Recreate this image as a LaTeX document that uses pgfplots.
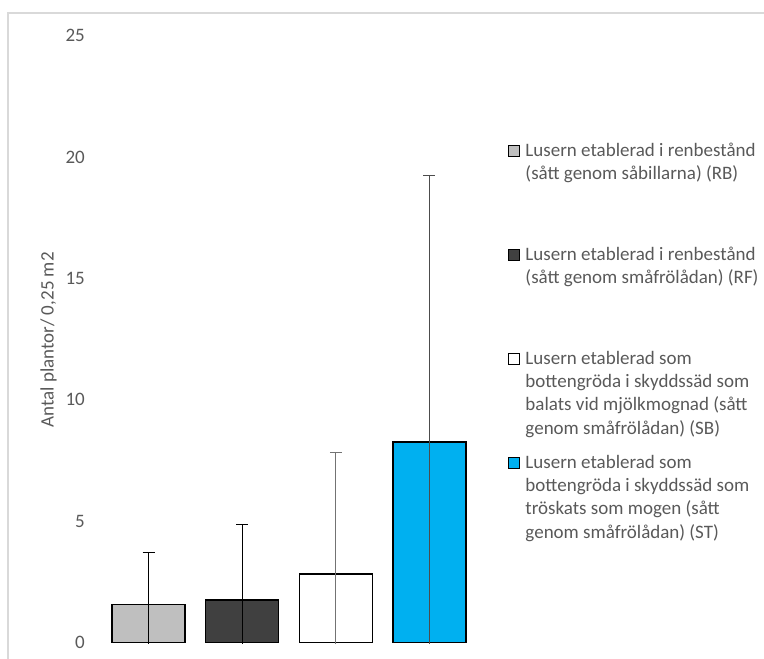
\documentclass[border=0pt]{standalone}
\usepackage{pgfplots}
\pgfplotsset{compat=1.18}
\usepackage{fontspec}
\setmainfont{Carlito}
\definecolor{txt}{HTML}{595959}
\definecolor{c1}{HTML}{BFBFBF}
\definecolor{c2}{HTML}{404040}
\definecolor{c4}{HTML}{00B0F0}
\definecolor{frm}{HTML}{D9D9D9}
\newcommand{\ff}{\fontsize{19bp}{23.3bp}\selectfont}
\newcommand{\entry}[1]{\parbox[t][104bp][t]{240bp}{#1}}
\begin{document}
\begin{tikzpicture}[x=1bp,y=1bp]
\useasboundingbox (0,0) rectangle (764,659);
\draw[frm, line width=1.5bp] (8,0) -- (8,646) -- (764,646);
\begin{axis}[
  at={(101.7bp,15.2bp)}, anchor=south west, scale only axis,
  width=374.6bp, height=608bp,
  xmin=-0.5, xmax=3.5, ymin=-0.05, ymax=25,
  axis line style={draw=none}, tick style={draw=none}, major tick length=0pt,
  xtick=\empty, ytick={0,5,...,25},
  /pgf/number format/assume math mode=true,
  yticklabel style={font=\ff, text=txt, inner sep=0pt, xshift=-16.7bp},
  ylabel={Antal plantor/ 0,25 m2},
  ylabel style={at={(axis description cs:-0.142,0.5)}, anchor=center, font=\ff, text=txt},
  ybar, bar width=73bp, bar shift=0pt,
  legend image code/.code={\draw[#1,line width=1.3bp] (0bp,0bp) rectangle (11bp,11bp);},
  legend style={draw=none, fill=none, at={(axis description cs:1.0846,0.824)}, anchor=north west,
    inner sep=0pt, row sep=0pt, nodes={inner sep=0pt, text depth=}, cells={anchor=base west},
    font=\ff, text=txt,
    /tikz/every odd column/.style={column sep=5bp}},
]
\addplot[draw=black, line width=1.3bp, fill=c1,
  error bars/.cd, y dir=both, y explicit,
  error bar style={line width=1bp, black},
  error mark options={rotate=90, mark size=6bp, line width=1bp, black}]
  coordinates {(0,1.58) +- (0,2.15)};
\addlegendentry{\entry{Lusern etablerad i renbestånd\\(sått genom såbillarna) (RB)}}
\addplot[draw=black, line width=1.3bp, fill=c2,
  error bars/.cd, y dir=both, y explicit,
  error bar style={line width=1bp, black},
  error mark options={rotate=90, mark size=6bp, line width=1bp, black}]
  coordinates {(1,1.76) +- (0,3.10)};
\addlegendentry{\entry{Lusern etablerad i renbestånd\\(sått genom småfrölådan) (RF)}}
\addplot[draw=black, line width=1.3bp, fill=white,
  error bars/.cd, y dir=both, y explicit,
  error bar style={line width=1bp, black!55},
  error mark options={rotate=90, mark size=6bp, line width=1bp, black!55}]
  coordinates {(2,2.83) +- (0,5.02)};
\addlegendentry{\entry{Lusern etablerad som\\bottengröda i skyddssäd som\\balats vid mjölkmognad (sått\\genom småfrölådan) (SB)}}
\addplot[draw=black, line width=1.3bp, fill=c4,
  error bars/.cd, y dir=both, y explicit,
  error bar style={line width=1bp, black!70},
  error mark options={rotate=90, mark size=6bp, line width=1bp, black!70}]
  coordinates {(3,8.27) +- (0,10.97)};
\addlegendentry{\entry{Lusern etablerad som\\bottengröda i skyddssäd som\\tröskats som mogen (sått\\genom småfrölådan) (ST)}}
\end{axis}
\end{tikzpicture}
\end{document}
